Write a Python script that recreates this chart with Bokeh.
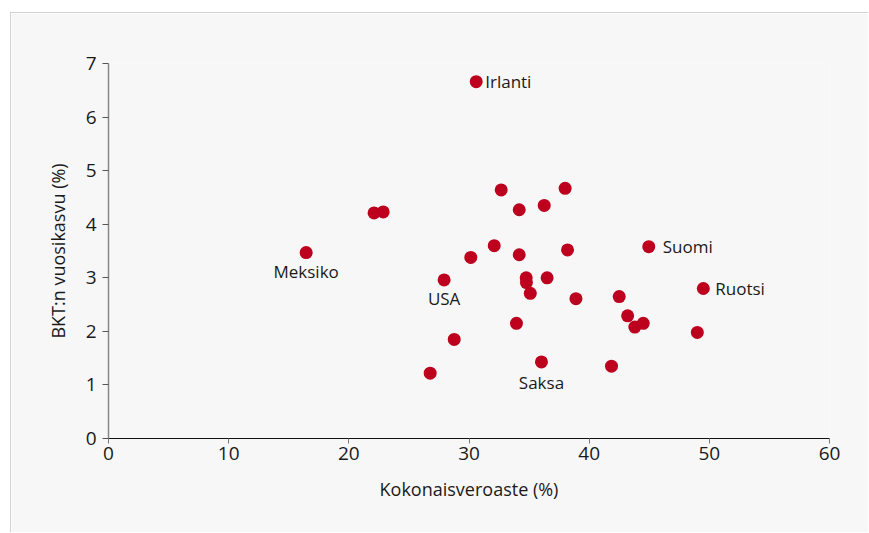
from bokeh.plotting import figure
from bokeh.models import Range1d, ColumnDataSource, FixedTicker, LabelSet
from bokeh.core.properties import value
from bokeh.embed import file_html
from bokeh.resources import INLINE

# Data
tax_rate = [16.45, 22.1, 22.86, 27.93, 26.77, 28.77, 30.15, 30.6, 32.1, 32.68,
            34.18, 34.18, 33.95, 34.76, 34.78, 35.1, 36.26, 36.5, 36.03, 38.0,
            38.2, 38.9, 41.86, 42.5, 43.2, 43.8, 44.5, 44.96, 49.0, 49.5]
gdp_growth = [3.47, 4.21, 4.23, 2.96, 1.22, 1.85, 3.38, 6.66, 3.60, 4.64,
              4.27, 3.43, 2.15, 3.00, 2.91, 2.71, 4.35, 3.00, 1.43, 4.67,
              3.52, 2.61, 1.35, 2.65, 2.29, 2.08, 2.15, 3.58, 1.98, 2.80]
names = ["Meksiko", "", "", "USA", "", "", "", "Irlanti", "", "",
         "", "", "", "", "", "", "", "", "Saksa", "",
         "", "", "", "", "", "", "", "Suomi", "", "Ruotsi"]
x_ticks = [0, 10, 20, 30, 40, 50, 60]
y_ticks = [0, 1, 2, 3, 4, 5, 6, 7]
x_title = "Kokonaisveroaste (%)"
y_title = "BKT:n vuosikasvu (%)"

FONT = "Open Sans"
BG = "#f7f7f7"
TXT = "#1a1a1a"

p = figure(width=858, height=520, output_backend="svg", toolbar_location=None,
           x_range=Range1d(0, 60), y_range=Range1d(0, 7),
           min_border_left=97, min_border_right=40, min_border_top=50,
           min_border_bottom=95)
p.styles = {"margin-left": "10px", "margin-top": "12px",
            "border-left": "1px solid #d2d2d2", "border-top": "1px solid #d2d2d2"}
p.background_fill_color = BG
p.border_fill_color = BG
p.outline_line_color = None
p.xgrid.visible = False
p.ygrid.visible = False

p.xaxis.ticker = FixedTicker(ticks=x_ticks)
p.yaxis.ticker = FixedTicker(ticks=y_ticks)
for ax in (p.xaxis, p.yaxis):
    ax.minor_tick_line_color = None
    ax.major_tick_in = 0
    ax.major_label_text_font = FONT
    ax.major_label_text_font_size = "19px"
    ax.major_label_text_color = TXT
    ax.axis_label_text_font = FONT
    ax.axis_label_text_font_size = "18px"
    ax.axis_label_text_font_style = "normal"
    ax.axis_label_text_color = TXT

p.xaxis.axis_line_color = "#111111"
p.xaxis.major_tick_line_color = "#777777"
p.xaxis.major_tick_out = 5
p.xaxis.major_label_standoff = 3
p.xaxis.axis_label = x_title
p.xaxis.axis_label_standoff = 14

p.yaxis.axis_line_color = "#888888"
p.yaxis.axis_line_width = 1.5
p.yaxis.major_tick_line_color = "#555555"
p.yaxis.major_tick_out = 6
p.yaxis.major_label_standoff = 6
p.yaxis.axis_label = y_title
p.yaxis.axis_label_standoff = 13

src = ColumnDataSource(dict(x=tax_rate, y=gdp_growth, name=names))
p.scatter("x", "y", source=src, size=13, fill_color="#bd001e", line_color=None)

# labels, placed to the right or below their point
right = {"Irlanti": 9, "Suomi": 14, "Ruotsi": 12}
below = {"Meksiko": 19, "USA": 19, "Saksa": 21}
rx, ry, rt, rdx = [], [], [], []
bx, by, bt, bdy = [], [], [], []
for xv, yv, n in zip(tax_rate, gdp_growth, names):
    if n in right:
        rx.append(xv); ry.append(yv); rt.append(n); rdx.append(right[n])
    elif n in below:
        bx.append(xv); by.append(yv); bt.append(n); bdy.append(-below[n])

rsrc = ColumnDataSource(dict(x=rx, y=ry, t=rt, dx=rdx))
bsrc = ColumnDataSource(dict(x=bx, y=by, t=bt, dy=bdy))
p.add_layout(LabelSet(x="x", y="y", text="t", source=rsrc, x_offset="dx",
                      text_align="left", text_baseline="middle",
                      text_font=value(FONT), text_font_size="17px", text_color=TXT))
p.add_layout(LabelSet(x="x", y="y", text="t", source=bsrc, y_offset="dy",
                      text_align="center", text_baseline="middle",
                      text_font=value(FONT), text_font_size="17px", text_color=TXT))

open("out.html", "w").write(file_html(p, INLINE))
